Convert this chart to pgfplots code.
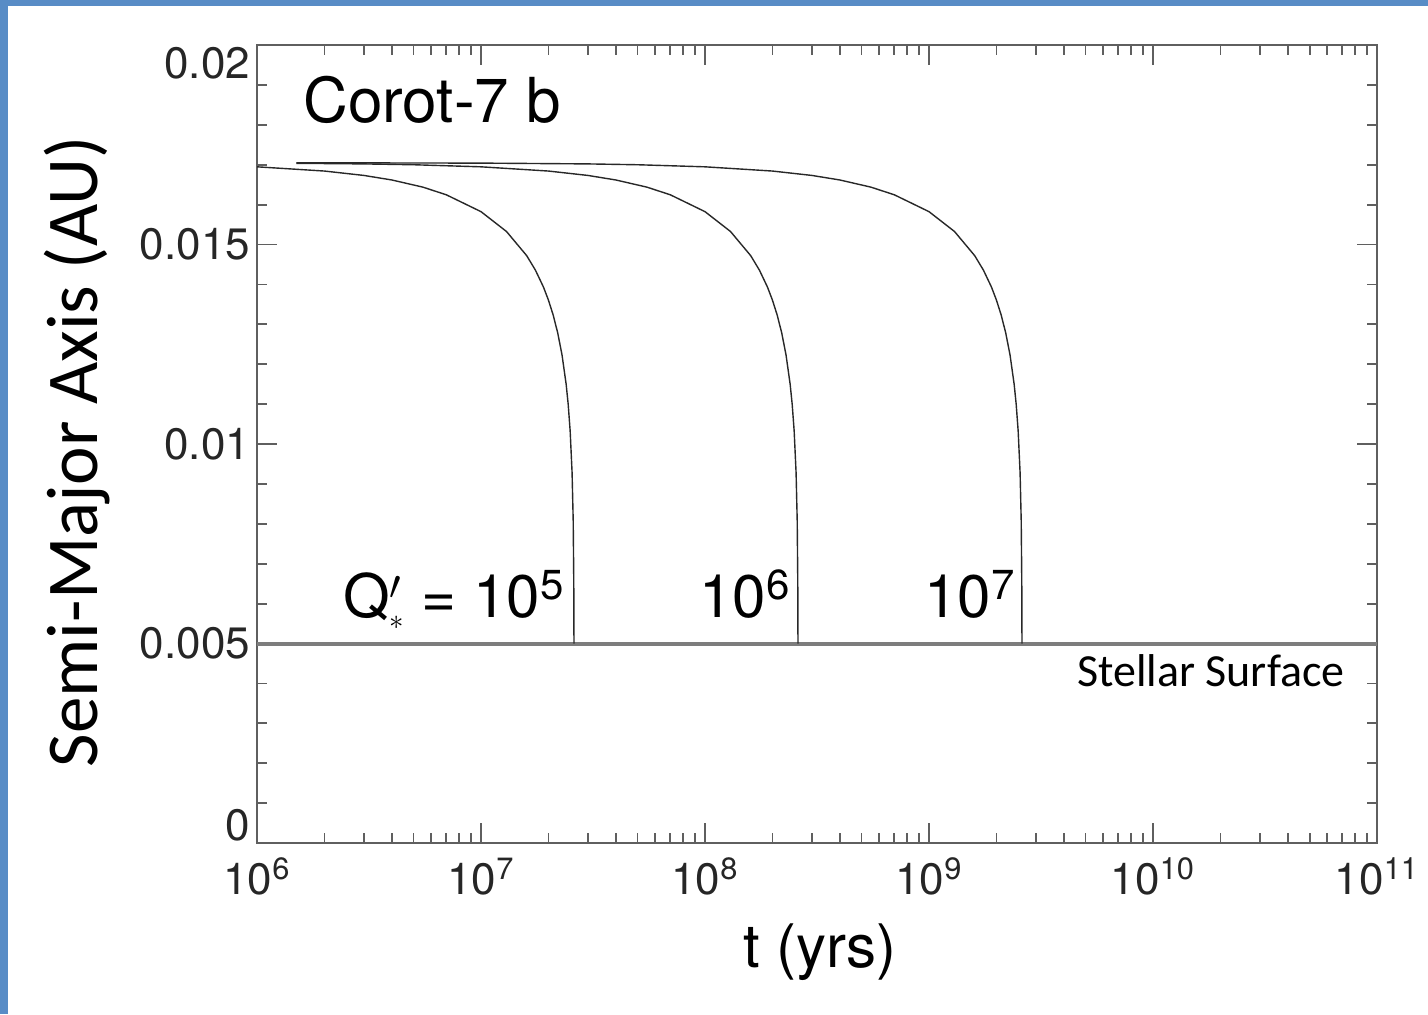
\documentclass[border=0pt]{standalone}
\usepackage{fontspec}
\setmainfont{TeX Gyre Heros}
\newfontfamily\carlito{Carlito}
\usepackage{pgfplots}
\pgfplotsset{compat=1.18}
\definecolor{bgblue}{RGB}{88,140,198}
\definecolor{axgray}{RGB}{95,95,95}
\definecolor{surfgray}{RGB}{125,125,125}
\definecolor{curve}{RGB}{40,40,40}

\begin{document}
\begin{tikzpicture}
% slide background behind the figure
\fill[bgblue] (-128.5pt,-85.5pt) rectangle (585.5pt,421.5pt);
\fill[white] (-124.5pt,-85.5pt) rectangle (585.5pt,418.5pt);
\begin{axis}[
  at={(0,0)}, anchor=south west,
  scale only axis, width=560pt, height=399pt,
  xmode=log, log basis x=10,
  xmin=1e6, xmax=1e11, ymin=0, ymax=0.02,
  xtick={1e6,1e7,1e8,1e9,1e10,1e11},
  xticklabels={10\textsuperscript{6},10\textsuperscript{7},10\textsuperscript{8},10\textsuperscript{9},10\textsuperscript{10},10\textsuperscript{11}},
  minor xtick={2e6,3e6,4e6,5e6,6e6,7e6,8e6,9e6,
               2e7,3e7,4e7,5e7,6e7,7e7,8e7,9e7,
               2e8,3e8,4e8,5e8,6e8,7e8,8e8,9e8,
               2e9,3e9,4e9,5e9,6e9,7e9,8e9,9e9,
               2e10,3e10,4e10,5e10,6e10,7e10,8e10,9e10},
  ytick={0,0.005,0.01,0.015,0.02},
  % end labels sit inside the range, as in the reference
  yticklabels={\smash{\raisebox{1.5pt}{0}},0.005,0.01,0.015,\smash{\raisebox{-16.5pt}{0.02}}},
  scaled y ticks=false,
  minor y tick num=4,
  tick align=inside,
  major tick length=10pt, minor tick length=5pt,
  axis line style={axgray, line width=1pt},
  every tick/.style={axgray, line width=0.9pt},
  tick label style={font=\fontsize{22}{24}\selectfont, black!85},
  xticklabel style={yshift=-4pt},
  xlabel={t (yrs)},
  ylabel={Semi-Major Axis (AU)},
  xlabel style={font=\fontsize{30}{33}\selectfont, at={(axis description cs:0.5027,-0.137)}, anchor=center},
  ylabel style={font=\carlito\fontsize{36.5}{40}\selectfont, at={(axis description cs:-0.1607,0.49)}, anchor=center},
]
% stellar surface
\addplot[surfgray, line width=2pt] coordinates {(1e6,0.005) (1e11,0.005)};

% Q = 1e5
\addplot[curve, line width=0.7pt] coordinates {
  (1e6,0.016947) (2e6,0.016841) (3e6,0.016731) (4e6,0.016617) (5.5e6,0.016438)
  (7e6,0.016246) (1e7,0.015823) (1.3e7,0.015325) (1.6e7,0.014719) (1.75e7,0.014356)
  (1.9e7,0.013934) (2e7,0.013606) (2.1e7,0.013231) (2.2e7,0.012784) (2.3e7,0.012230)
  (2.4e7,0.011491) (2.45e7,0.010994) (2.5e7,0.010329) (2.55e7,0.009284)
  (2.58e7,0.008063) (2.595e7,0.006515) (2.6e7,0.005)
};
% Q = 1e6
\addplot[curve, line width=0.7pt] coordinates {
  (1.5e6,0.017035) (3e6,0.017020) (5e6,0.016999)
  (1e7,0.016947) (2e7,0.016841) (3e7,0.016731) (4e7,0.016617) (5.5e7,0.016438)
  (7e7,0.016246) (1e8,0.015823) (1.3e8,0.015325) (1.6e8,0.014719) (1.75e8,0.014356)
  (1.9e8,0.013934) (2e8,0.013606) (2.1e8,0.013231) (2.2e8,0.012784) (2.3e8,0.012230)
  (2.4e8,0.011491) (2.45e8,0.010994) (2.5e8,0.010329) (2.55e8,0.009284)
  (2.58e8,0.008063) (2.595e8,0.006515) (2.6e8,0.005)
};
% Q = 1e7
\addplot[curve, line width=0.7pt] coordinates {
  (1.5e6,0.017048) (1e7,0.017040) (3e7,0.017020) (5e7,0.016999)
  (1e8,0.016947) (2e8,0.016841) (3e8,0.016731) (4e8,0.016617) (5.5e8,0.016438)
  (7e8,0.016246) (1e9,0.015823) (1.3e9,0.015325) (1.6e9,0.014719) (1.75e9,0.014356)
  (1.9e9,0.013934) (2e9,0.013606) (2.1e9,0.013231) (2.2e9,0.012784) (2.3e9,0.012230)
  (2.4e9,0.011491) (2.45e9,0.010994) (2.5e9,0.010329) (2.55e9,0.009284)
  (2.58e9,0.008063) (2.595e9,0.006515) (2.6e9,0.005)
};

\node[anchor=base west, inner sep=0pt, font=\fontsize{31}{34}\selectfont]
  at (axis description cs:0.041,0.9035) {Corot-7 b};
\node[anchor=base east, inner sep=0pt, xshift=-4.5pt, font=\fontsize{30}{32}\selectfont]
  at (axis cs:2.6e7,0.00566) {Q$'_{\scriptscriptstyle\ast}$ = 10\textsuperscript{5}};
\node[anchor=base east, inner sep=0pt, xshift=-3.5pt, font=\fontsize{30}{32}\selectfont]
  at (axis cs:2.6e8,0.00566) {10\textsuperscript{6}};
\node[anchor=base east, inner sep=0pt, xshift=-3pt, font=\fontsize{30}{32}\selectfont]
  at (axis cs:2.6e9,0.00566) {10\textsuperscript{7}};
\node[anchor=base east, inner sep=0pt, xshift=-16pt, font=\carlito\fontsize{23}{26}\selectfont]
  at (axis cs:1e11,0.00393) {Stellar Surface};
\end{axis}
\end{tikzpicture}
\end{document}
